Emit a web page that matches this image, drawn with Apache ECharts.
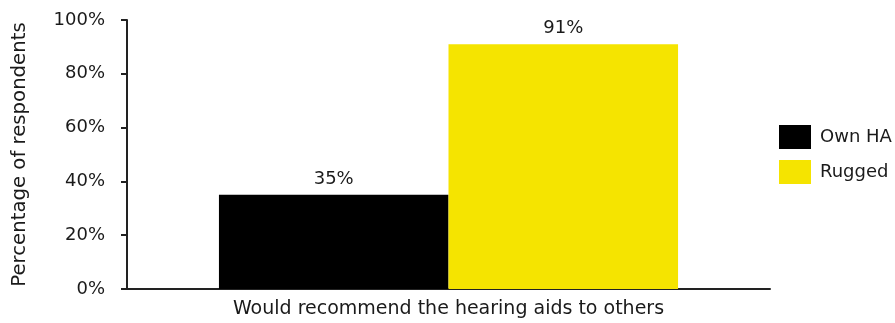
<!DOCTYPE html>
<html>
<head>
<meta charset="utf-8">
<script src="https://cdn.jsdelivr.net/npm/echarts@6/dist/echarts.min.js"></script>
<style>
  html, body { margin: 0; padding: 0; background: #fff; }
  #chart { width: 895px; height: 323px; }
</style>
</head>
<body>
<div id="chart"></div>
<script>
const categories = ['Would recommend the hearing aids to others']
const ownHA = [35]
const rugged = [91]
const seriesNames = ['Own HA', 'Rugged']

const FONT = 'DejaVu Sans'
const TEXT = '#1a1a1a'

const chart = echarts.init(document.getElementById('chart'), null, { renderer: 'canvas' })

const option = {
  backgroundColor: '#ffffff',
  animation: false,
  textStyle: { fontFamily: FONT },
  grid: { left: 127, right: 125, top: 20, bottom: 34, containLabel: false },
  legend: {
    orient: 'vertical',
    left: 779,
    top: 125,
    padding: 0,
    itemWidth: 32,
    itemHeight: 24,
    itemGap: 11,
    icon: 'rect',
    textStyle: { fontSize: 18, color: TEXT, fontFamily: FONT, padding: [0, 0, 0, 4] },
    data: seriesNames
  },
  xAxis: {
    type: 'category',
    data: categories,
    axisLine: { lineStyle: { color: '#222', width: 2 } },
    axisTick: { show: false },
    axisLabel: { fontSize: 19, color: TEXT, margin: 11 }
  },
  yAxis: {
    type: 'value',
    min: 0,
    max: 100,
    interval: 20,
    name: 'Percentage of respondents',
    nameLocation: 'middle',
    nameGap: 97,
    nameTextStyle: { fontSize: 19.7, color: TEXT },
    axisLine: { show: true, lineStyle: { color: '#222', width: 2 } },
    axisTick: { show: true, length: 6, lineStyle: { color: '#222', width: 2 } },
    splitLine: { show: false },
    axisLabel: { fontSize: 18, color: TEXT, margin: 22, formatter: '{value}%' }
  },
  series: [
    {
      name: seriesNames[0],
      type: 'bar',
      data: ownHA,
      barGap: '0%',
      barCategoryGap: '28.6%',
      itemStyle: { color: '#000000' },
      label: { show: true, position: 'top', distance: 7, fontSize: 18, color: TEXT, formatter: '{c}%' }
    },
    {
      name: seriesNames[1],
      type: 'bar',
      data: rugged,
      barGap: '0%',
      barCategoryGap: '28.6%',
      itemStyle: { color: '#F5E400' },
      label: { show: true, position: 'top', distance: 7, fontSize: 18, color: TEXT, formatter: '{c}%' }
    }
  ]
}

chart.setOption(option)
</script>
</body>
</html>
